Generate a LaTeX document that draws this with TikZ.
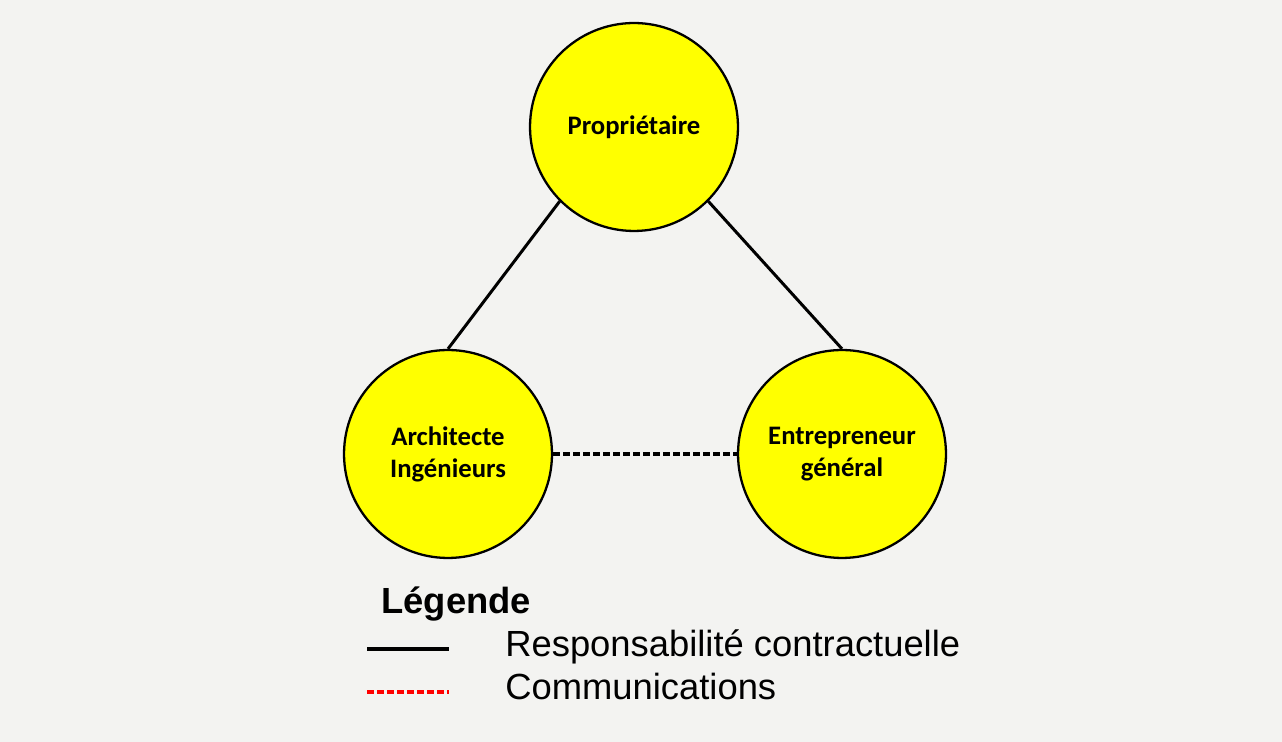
\documentclass[tikz,border=0pt]{standalone}
\usepackage{fontspec}
\setmainfont{Liberation Sans}
\newfontfamily\carlito{Carlito}
\usepackage{tikz}

\definecolor{fond}{RGB}{243,243,241}
\definecolor{jaune}{RGB}{255,255,0}

\tikzset{
	acteur/.style={circle, draw=black, line width=1.3pt, fill=jaune, minimum size=4.16cm,
		inner sep=0pt, align=center, font=\carlito\bfseries\fontsize{15.2}{18.2}\selectfont},
	contrat/.style={line width=1.7pt},
	comm/.style={line width=2.2pt, dash pattern=on 4pt off 1.7pt},
	legende/.style={anchor=base west, inner sep=0pt, font=\fontsize{20.7}{24}\selectfont}
}

\begin{document}
\begin{tikzpicture}[x=0.02cm, y=-0.02cm]
	
	\fill[fond] (0,0) rectangle (1282,742);
	
	\node[acteur] (prop) at (634,127) {Propriétaire};
	\node[acteur] (archi) at (448,454) {Architecte\\Ingénieurs};
	\node[acteur] (entre) at (842,454) {Entrepreneur\\général};
	
	\draw[contrat] (prop.225) -- (archi.north);
	\draw[contrat] (prop.-45) -- (entre.north);
	\draw[comm] (archi.east) -- (entre.west);
	
	\node[legende, font=\bfseries\fontsize{20.7}{24}\selectfont] (titre) at (381,614) {Légende};
	\coordinate (s1) at (367,649);
	\coordinate (s2) at (449,649);
	\coordinate (r1) at (367,692);
	\coordinate (r2) at (449,692);
	\draw[line width=1.8pt] (s1) -- (s2);
	\draw[red, line width=2.2pt, dash pattern=on 4pt off 1.7pt] (r1) -- (r2);
	\node[legende] (resp) at (505,657) {Responsabilité contractuelle};
	\node[legende] (com) at (505,700) {Communications};
	
\end{tikzpicture}
\end{document}
